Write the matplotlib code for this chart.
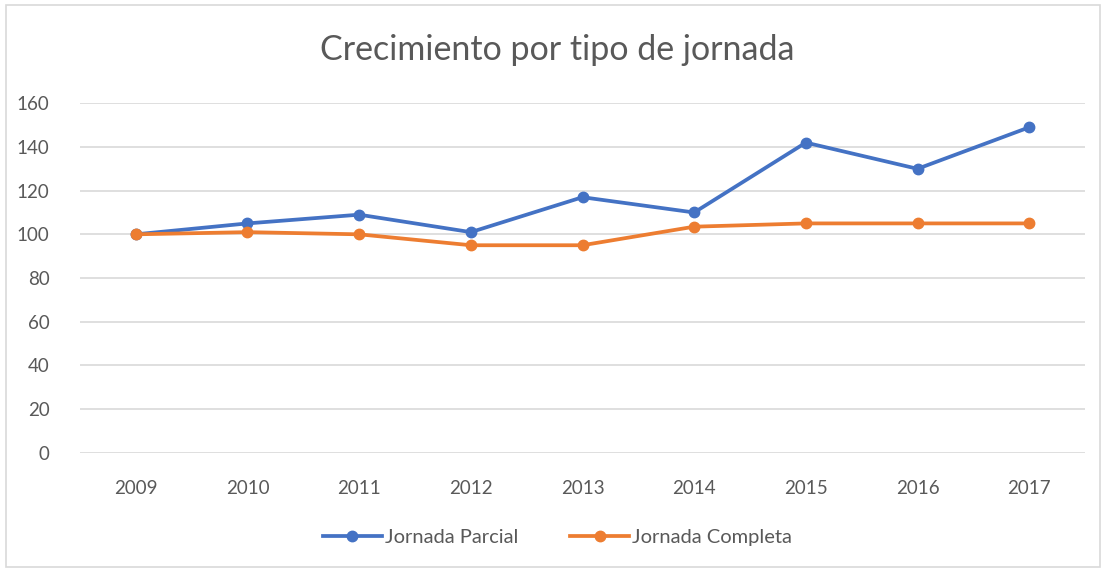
import matplotlib.pyplot as plt
from matplotlib.patches import Rectangle

# datos
years = ["2009", "2010", "2011", "2012", "2013", "2014", "2015", "2016", "2017"]
parcial = [100, 105, 109, 101, 117, 110, 142, 130, 149]
completa = [100, 101, 100, 95, 95, 103.5, 105, 105, 105]
yticks = [0, 20, 40, 60, 80, 100, 120, 140, 160]

BLUE = "#4472C4"
ORANGE = "#ED7D31"
GREY_TXT = "#595959"

plt.rcParams["font.family"] = ["Lato", "DejaVu Sans"]

fig = plt.figure(figsize=(11.06, 5.72), dpi=100)
ax = fig.add_axes([80 / 1106, 1 - 452.7 / 572, 1005 / 1106, (452.7 - 103.3) / 572])

x = range(len(years))
ax.plot(x, parcial, color=BLUE, lw=2.7, marker="o", ms=7.5, label="Jornada Parcial", zorder=3)
ax.plot(x, completa, color=ORANGE, lw=2.7, marker="o", ms=7.5, label="Jornada Completa", zorder=3)

ax.set_xlim(-0.5, len(years) - 0.5)
ax.set_ylim(0, 160)
ax.set_xticks(list(x))
ax.set_xticklabels(years)
ax.set_yticks(yticks)
ax.grid(axis="y", color="#D9D9D9", lw=1.2)
ax.set_axisbelow(True)
for s in ax.spines.values():
    s.set_visible(False)
ax.tick_params(length=0, colors=GREY_TXT, labelsize=13.5)
ax.tick_params(axis="y", pad=22)
ax.tick_params(axis="x", pad=20)

fig.text(0.504, 1 - 50 / 572, "Crecimiento por tipo de jornada", ha="center", va="center",
         fontsize=24.5, color=GREY_TXT)

leg = fig.legend(loc="center", bbox_to_anchor=(0.504, 1 - 537 / 572), ncol=2, frameon=False,
                 fontsize=14.5, handlelength=2.9, columnspacing=2.6, handletextpad=0.15)
for t in leg.get_texts():
    t.set_color(GREY_TXT)

# marco del grafico
fig.patches.append(Rectangle((6 / 1106, 5 / 572), 1 - 12 / 1106, 1 - 10 / 572,
                             transform=fig.transFigure, fill=False, ec="#D9D9D9", lw=1.2))

fig.savefig("out.png", dpi=100)
